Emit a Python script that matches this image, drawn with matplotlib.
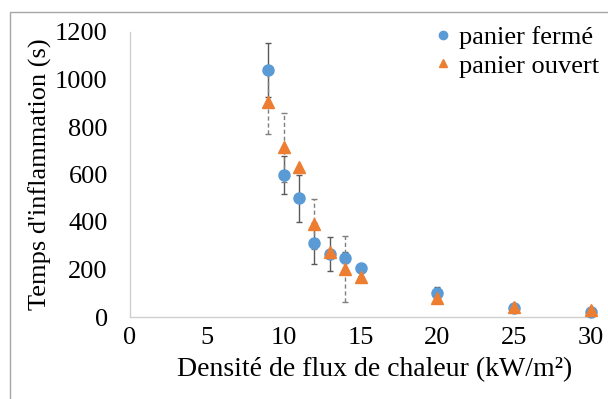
import numpy as np
import matplotlib.pyplot as plt
from matplotlib.patches import Rectangle
from matplotlib.lines import Line2D

plt.rcParams['font.family'] = ['Liberation Serif', 'DejaVu Serif']

# data
flux = [9, 10, 11, 12, 13, 14, 15, 20, 25, 30]
ferme = [1040, 600, 500, 310, 265, 250, 205, 100, 38, 22]
ferme_err = [115, 80, 100, 85, 72, 22, 15, 25, 8, 6]
ouvert = [905, 715, 632, 390, 275, 203, 168, 82, 42, 28]
ouvert_err = [135, 145, 0, 105, 0, 140, 0, 0, 0, 0]

blue = '#5B9BD5'
orange = '#ED7D31'

fig = plt.figure(figsize=(6.08, 3.99), dpi=100)
ax = fig.add_axes([130/608, 1-317/399, (591-130)/608, (317-32)/399])

# closed basket: solid error bars
ax.errorbar(flux, ferme, yerr=ferme_err, fmt='none', ecolor='#595959',
            elinewidth=1, capsize=2, capthick=1, zorder=2)
# open basket: dashed error bars
oerr = np.array(ouvert_err, dtype=float)
mask = oerr > 0
eb2 = ax.errorbar(np.array(flux)[mask], np.array(ouvert)[mask], yerr=oerr[mask],
                  fmt='none', ecolor='#7f7f7f', elinewidth=1, capsize=2,
                  capthick=1, zorder=2)
eb2[2][0].set_linestyle((0, (3, 2)))

ax.plot(flux, ferme, 'o', color=blue, ms=8, zorder=3, clip_on=False)
ax.plot(flux, ouvert, '^', color=orange, ms=8, zorder=4, clip_on=False)

ax.set_xlim(0, 30)
ax.set_ylim(0, 1200)
ax.set_xticks(range(0, 31, 5))
ax.set_yticks(range(0, 1201, 200))
ax.tick_params(length=0, labelsize=19)
ax.tick_params(axis='y', pad=16)
ax.tick_params(axis='x', pad=7)
for s in ['top', 'right']:
    ax.spines[s].set_visible(False)
for s in ['left', 'bottom']:
    ax.spines[s].set_color('#D0D0D0')
    ax.spines[s].set_linewidth(1)

ax.set_xlabel('Densité de flux de chaleur (kW/m²)', fontsize=20)
ax.xaxis.set_label_coords(0.53, -0.14)
ax.set_ylabel("Temps d'inflammation (s)", fontsize=19, labelpad=2)

handles = [Line2D([], [], marker='o', ls='none', color=blue, ms=6),
           Line2D([], [], marker='^', ls='none', color=orange, ms=6)]
ax.legend(handles, ['panier fermé', 'panier ouvert'], loc='upper right',
          bbox_to_anchor=(1.04, 1.06), frameon=False, fontsize=19,
          handletextpad=0.1, handlelength=1.0, labelspacing=0.2,
          borderaxespad=0)

fig.patches.append(Rectangle((10/608, -0.05), 1.1, 1-12/399+0.05,
                             transform=fig.transFigure, fill=False,
                             edgecolor='#A6A6A6', lw=1))

fig.savefig('out.png', dpi=100)
